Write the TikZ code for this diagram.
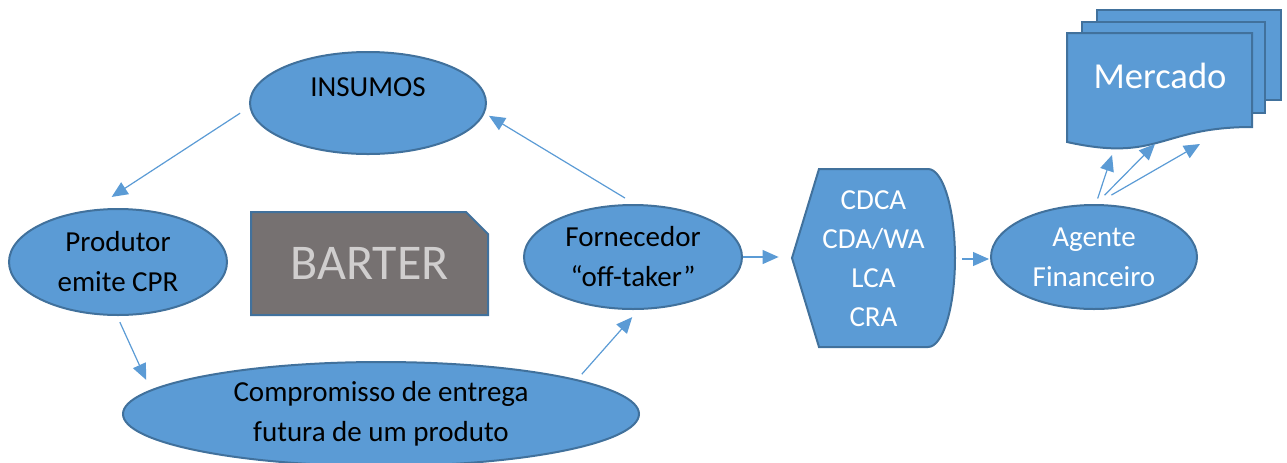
\documentclass[tikz,border=0pt]{standalone}
\usepackage{fontspec}
\setmainfont{Carlito}
\usetikzlibrary{arrows.meta,shapes.geometric,shapes.misc}
\definecolor{fillblue}{HTML}{5B9BD5}
\definecolor{edgeblue}{HTML}{41719C}
\definecolor{bartergray}{HTML}{767171}
\definecolor{bartertext}{HTML}{D0CECE}
\tikzset{
  bubble/.style={ellipse, draw=edgeblue, fill=fillblue, line width=1pt, inner sep=0pt, align=center, font=\fontsize{14.5}{20}\selectfont},
  flow/.style={draw=fillblue, line width=0.6pt, -{Triangle[length=8pt,width=7pt]}},
  doc/.style={draw=edgeblue, fill=fillblue, line width=1pt}
}
\begin{document}
\begin{tikzpicture}[x=0.5pt,y=-0.5pt]
	\useasboundingbox (0,0) rectangle (1287,462);
	% ciclo do barter
	\node[bubble, minimum width=118pt, minimum height=51pt, text height=10pt, text depth=16.6pt] (ins) at (368,103) {INSUMOS};
	\node[bubble, minimum width=109pt, minimum height=53pt] (prod) at (118,262) {Produtor\\emite CPR};
	\node[bubble, minimum width=258pt, minimum height=52pt] (comp) at (381,414) {Compromisso de entrega\\futura de um produto};
	\node[bubble, minimum width=109pt, minimum height=52pt] (forn) at (633,257) {Fornecedor\\“off-taker”};
	\node[chamfered rectangle, chamfered rectangle corners=north east, chamfered rectangle xsep=5.5pt, chamfered rectangle ysep=5.5pt,
	      draw=edgeblue, fill=bartergray, line width=1pt, minimum width=118.5pt, minimum height=51.5pt, inner sep=0pt,
	      text=bartertext, font=\fontsize{25}{30}\selectfont] (barter) at (369.5,263.5) {BARTER};
	% titulos
	\draw[doc] (792,258) -- (819,169) -- (928,169) .. controls (943,169) and (955,209) .. (955,258)
	           .. controls (955,307) and (943,347) .. (928,347) -- (819,347) -- cycle;
	\node[text=white, align=center, inner sep=0pt, minimum width=81.5pt, minimum height=89pt, font=\fontsize{14.5}{19.5}\selectfont] (cdca) at (873.5,259) {CDCA\\CDA/WA\\LCA\\CRA};
	\node[bubble, text=white, minimum width=103pt, minimum height=52pt] (ag) at (1094,257) {Agente\\Financeiro};
	% mercado
	\draw[doc] (1097,10) rectangle (1281,100);
	\draw[doc] (1082,22) rectangle (1265,113);
	\draw[doc] (1067,33) -- (1252,33) -- (1252,127) .. controls (1159.5,127) and (1159.5,162.5) .. (1067,142) -- cycle;
	\node[text=white, font=\fontsize{18.3}{22}\selectfont] (merc) at (1160,76) {Mercado};
	\coordinate (m1) at (1112,155);
	\coordinate (m2) at (1155,144);
	\coordinate (m3) at (1200,144);
	% setas
	\draw[flow, shorten <=5.5pt, shorten >=11.5pt] (ins.182) -- (prod.116);
	\draw[flow, shorten <=5.75pt, shorten >=2.5pt] (forn.88) -- (ins.355);
	\draw[flow, shorten <=3.35pt, shorten >=5.5pt] (prod.269) -- (comp.174);
	\draw[flow, shorten <=3.5pt, shorten >=4.8pt] (comp.10) -- (forn.276);
	\draw[flow, shorten >=6.5pt] (forn.east) -- (forn.east -| cdca.west);
	\draw[flow, shorten <=3.5pt, shorten >=0.5pt] (cdca.east) -- (cdca.east -| ag.west);
	\foreach \tip/\gap in {m1/2.9pt,m2/6.2pt,m3/9pt}
	\draw[flow, shorten <=\gap] (ag.88) -- (\tip);
\end{tikzpicture}
\end{document}
